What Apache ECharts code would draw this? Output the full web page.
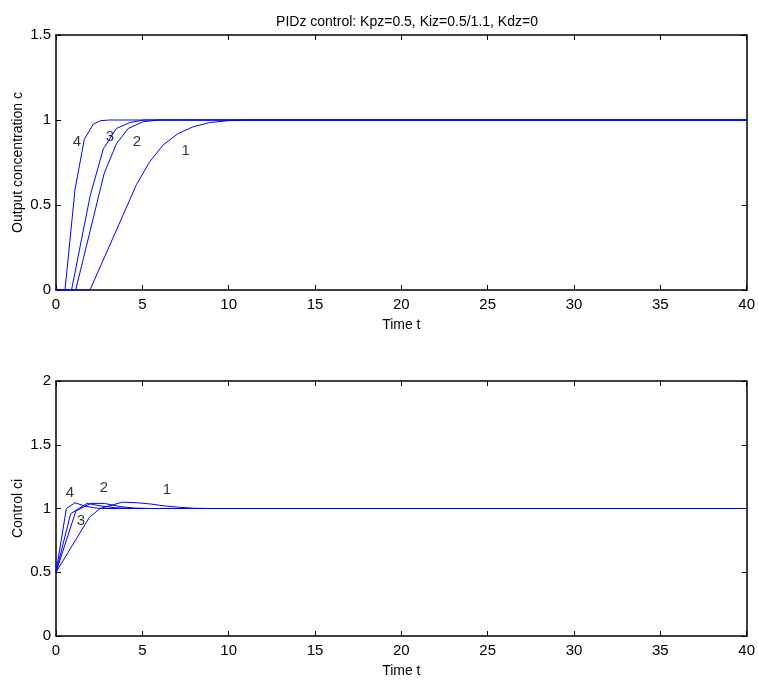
<!DOCTYPE html>
<html><head><meta charset="utf-8">
<script src="https://cdn.jsdelivr.net/npm/echarts@6/dist/echarts.min.js"></script>
<style>html,body{margin:0;padding:0;background:#fff}#c{width:758px;height:680px}</style>
</head><body><div id="c"></div>
<script>
// Output concentration c (top plot), [t, c]
const out1 = [[0,0],[1.97,0],[4.66,0.62],[5.43,0.755],[6.2,0.853],[7.07,0.92],[7.94,0.96],[8.9,0.985],[10,0.996],[11,1],[40,1]];
const out2 = [[0,0],[1.14,0],[2.79,0.686],[3.5,0.86],[4.18,0.95],[5.05,0.99],[6,1],[40,1]];
const out3 = [[0,0],[0.9,0],[1.97,0.55],[2.74,0.83],[3.5,0.95],[4.28,0.985],[5.1,1],[40,1]];
const out4 = [[0,0],[0.52,0],[1.1,0.59],[1.64,0.886],[2.16,0.976],[2.58,0.996],[3.1,1],[40,1]];
// Control ci (bottom plot), [t, ci]
const ctl1 = [[0,0.5],[1.93,0.93],[2.55,1.0],[3.85,1.05],[4.7,1.045],[5.5,1.035],[6.3,1.02],[7.1,1.01],[8.0,1.002],[8.8,1],[40,1]];
const ctl2 = [[0,0.5],[1.15,0.98],[2.0,1.04],[2.8,1.04],[3.7,1.015],[4.6,1.003],[5.5,1],[40,1]];
const ctl3 = [[0,0.5],[0.85,0.96],[1.8,1.04],[2.6,1.02],[3.5,1.005],[4.4,1],[40,1]];
const ctl4 = [[0,0.5],[0.6,1.0],[1.1,1.045],[1.65,1.02],[2.2,1.005],[2.7,1],[40,1]];
// Curve number labels [t, y, text]
const outLabels = [[1.21,0.87,'4'],[3.12,0.9,'3'],[4.68,0.87,'2'],[7.51,0.82,'1']];
const ctlLabels = [[0.81,1.12,'4'],[2.77,1.16,'2'],[1.45,0.9,'3'],[6.42,1.145,'1']];
const xTicks = [0,5,10,15,20,25,30,35,40];
const titleText = 'PIDz control: Kpz=0.5, Kiz=0.5/1.1, Kdz=0';

const FONT = 'Liberation Sans';
const chart = echarts.init(document.getElementById('c'), null, {renderer:'canvas'});
const axLine = {show:true, onZero:false, lineStyle:{color:'#000', width:1.5}};
const tick = {show:true, inside:true, length:5, lineStyle:{color:'#000'}};
const lbl = {color:'#000', fontFamily:FONT, fontSize:15};
function xAx(grid, pos, show, name){
  return {type:'value', gridIndex:grid, position:pos, min:0, max:40, interval:5,
    axisLine:axLine, axisTick:tick, splitLine:{show:false},
    axisLabel: show ? Object.assign({margin:7}, lbl) : {show:false},
    name: name||'', nameLocation:'middle', nameGap:28, nameMoveOverlap:false,
    nameTextStyle:{color:'#000', fontFamily:FONT, fontSize:14}};
}
function yAx(grid, pos, show, max, name){
  return {type:'value', gridIndex:grid, position:pos, min:0, max:max, interval:0.5,
    axisLine:axLine, axisTick:tick, splitLine:{show:false},
    axisLabel: show ? Object.assign({margin:5, formatter:v=>String(v)}, lbl) : {show:false},
    name: name||'', nameLocation:'middle', nameGap:31, nameMoveOverlap:false,
    nameTextStyle:{color:'#000', fontFamily:FONT, fontSize:14}};
}
function line(data, xi, yi){
  return {type:'line', data:data, xAxisIndex:xi, yAxisIndex:yi, showSymbol:false, symbol:'none',
    lineStyle:{color:'#0000ff', width:1}, animation:false, z:3};
}
function labels(arr, xi, yi){
  return {type:'scatter', xAxisIndex:xi, yAxisIndex:yi, symbolSize:0,
    data: arr.map(a=>({value:[a[0],a[1]], label:{formatter:a[2]}})),
    label:{show:true, position:'inside', color:'#000', fontFamily:FONT, fontSize:15},
    animation:false, silent:true};
}
chart.setOption({
  backgroundColor:'#fff',
  animation:false,
  title:{text:titleText, left:402, top:10, textAlign:'center',
    textStyle:{fontFamily:FONT, fontSize:14, fontWeight:'normal', color:'#000'}},
  grid:[{left:56, top:35, width:692, height:255},{left:56, top:381, width:692, height:255}],
  xAxis:[xAx(0,'bottom',true,'Time t'), xAx(0,'top',false), xAx(1,'bottom',true,'Time t'), xAx(1,'top',false)],
  yAxis:[yAx(0,'left',true,1.5,'Output concentration c'), yAx(0,'right',false,1.5), yAx(1,'left',true,2,'Control ci'), yAx(1,'right',false,2)],
  series:[
    line(out1,0,0), line(out2,0,0), line(out3,0,0), line(out4,0,0),
    line(ctl1,2,2), line(ctl2,2,2), line(ctl3,2,2), line(ctl4,2,2),
    labels(outLabels,0,0), labels(ctlLabels,2,2)
  ]
});
</script></body></html>
